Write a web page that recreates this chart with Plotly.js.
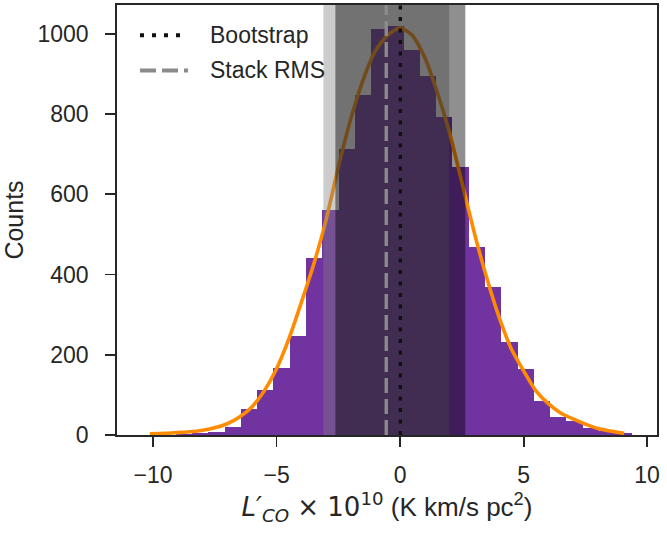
<!DOCTYPE html>
<html>
<head>
<meta charset="utf-8">
<script src="https://cdn.plot.ly/plotly-3.0.1.min.js"></script>
<style>
html,body{margin:0;padding:0;background:#fff;}
#chart{width:667px;height:533px;}
</style>
</head>
<body>
<div id="chart"></div>
<script>
// Histogram of L'CO (x 10^10) values: bin centres and counts
const binCenters = [-9.4115, -8.7525, -8.0935, -7.4345, -6.7755, -6.1165, -5.4575, -4.7985, -4.1395, -3.4805,
                    -2.8215, -2.1625, -1.5035, -0.8445, -0.1855, 0.4735, 1.1325, 1.7915, 2.4505, 3.1095,
                    3.7685, 4.4275, 5.0865, 5.7455, 6.4045, 7.0635, 7.7225, 8.3815, 9.0405];
const binCounts  = [1, 2, 4, 8, 19, 65, 113, 167, 247, 441,
                    561, 712, 847, 1012, 1020, 959, 894, 792, 668, 469,
                    369, 232, 165, 85, 46, 36, 18, 11, 6];
const binWidth = 0.659;

// Gaussian fit curve
const fitX = [-10.13, -9.5, -9, -8.5, -8, -7.5, -7, -6.5, -6, -5.5,
              -5, -4.5, -4, -3.5, -3, -2.5, -2, -1.5, -1, -0.5,
              0, 0.5, 1, 1.5, 2, 2.5, 3, 3.5, 4, 4.5,
              5, 5.5, 6, 6.5, 7, 7.5, 8, 8.5, 9.07];
const fitY = [3, 4, 6, 8, 12, 18, 28, 45, 70, 110,
              165, 240, 330, 425, 535, 668, 787, 885, 958, 997,
              1015, 996, 941, 855, 754, 630, 505, 393, 295, 215,
              160, 110, 78, 55, 40, 27, 16, 10, 4];

// Reference values: centre and half-width of each uncertainty band
const bootstrapCenter = 0.01;
const bootstrapHalfWidth = 2.63;
const stackCenter = -0.56;
const stackHalfWidth = 2.545;

const legendNames = ["Bootstrap", "Stack RMS"];
const xTickVals = [-10, -5, 0, 5, 10];
const yTickVals = [0, 200, 400, 600, 800, 1000];

const ink = '#262626';
const fontFam = '"Liberation Sans", Arial, sans-serif';
const bootColor = '#111111';
const stackColor = '#8a8a8a';
const dotDash = '4px,7.5px';
const longDash = '15px,6px';

const traces = [
  {
    type: 'bar', x: binCenters, y: binCounts, width: binWidth,
    marker: {color: '#7133a0', line: {width: 0}},
    showlegend: false, hoverinfo: 'skip'
  },
  {
    type: 'scatter', mode: 'lines', x: fitX, y: fitY,
    line: {color: '#ff8c00', width: 3.6, shape: 'spline', smoothing: 0.6},
    showlegend: false, hoverinfo: 'skip'
  }
];

const shapes = [
  {type: 'rect', xref: 'x', yref: 'paper', x0: stackCenter - stackHalfWidth, x1: stackCenter + stackHalfWidth,
   y0: 0, y1: 1, fillcolor: 'rgba(128,128,128,0.4)', line: {width: 0}, layer: 'above'},
  {type: 'rect', xref: 'x', yref: 'paper', x0: bootstrapCenter - bootstrapHalfWidth, x1: bootstrapCenter + bootstrapHalfWidth,
   y0: 0, y1: 1, fillcolor: 'rgba(0,0,0,0.44)', line: {width: 0}, layer: 'above'},
  {type: 'line', xref: 'x', yref: 'paper', x0: bootstrapCenter, x1: bootstrapCenter, y0: 0, y1: 1,
   line: {color: bootColor, width: 3.4, dash: dotDash}, layer: 'above'},
  {type: 'line', xref: 'x', yref: 'paper', x0: stackCenter, x1: stackCenter, y0: 0, y1: 1,
   line: {color: stackColor, width: 3.4, dash: longDash}, layer: 'above'},
  // legend samples
  {type: 'line', xref: 'paper', yref: 'paper', x0: 0.0426, x1: 0.1315, y0: 0.9295, y1: 0.9295,
   line: {color: bootColor, width: 4, dash: '4px,8px'}, layer: 'above'},
  {type: 'line', xref: 'paper', yref: 'paper', x0: 0.0426, x1: 0.1315, y0: 0.8479, y1: 0.8479,
   line: {color: stackColor, width: 4, dash: '16px,6px'}, layer: 'above'}
];

const annotations = [
  {xref: 'paper', yref: 'paper', x: 0.168, y: 0.9295, xanchor: 'left', yanchor: 'middle', showarrow: false,
   text: legendNames[0], font: {family: fontFam, size: 23, color: ink}},
  {xref: 'paper', yref: 'paper', x: 0.168, y: 0.8479, xanchor: 'left', yanchor: 'middle', showarrow: false,
   text: legendNames[1], font: {family: fontFam, size: 23, color: ink}}
];

const axisCommon = {
  showline: true, linewidth: 1.8, linecolor: ink, mirror: true,
  ticks: 'outside', ticklen: 10, tickwidth: 1.8, tickcolor: ink,
  showgrid: false, zeroline: false,
  tickfont: {family: fontFam, size: 23, color: ink}
};

const xTitle = '<span style="font-family:\'DejaVu Sans\'"><i>L′</i><sub><i>CO</i></sub> × 10<sup>10</sup></span> (K km/s pc<sup>2</sup>)';

const layout = {
  width: 667, height: 533,
  margin: {l: 117, r: 10, t: 5, b: 98},
  paper_bgcolor: '#ffffff', plot_bgcolor: '#ffffff',
  font: {family: fontFam, color: ink},
  bargap: 0,
  showlegend: false,
  xaxis: Object.assign({}, axisCommon, {
    range: [-11.46, 10.4], tickmode: 'array', tickvals: xTickVals,
    ticklabelstandoff: 9,
    title: {text: xTitle, font: {family: fontFam, size: 26, color: ink}, standoff: 10}
  }),
  yaxis: Object.assign({}, axisCommon, {
    range: [0, 1072], tickmode: 'array', tickvals: yTickVals,
    ticklabelstandoff: 12,
    title: {text: 'Counts', font: {family: fontFam, size: 25, color: ink}, standoff: 7}
  }),
  shapes: shapes,
  annotations: annotations
};

Plotly.newPlot('chart', traces, layout, {displayModeBar: false, staticPlot: true});
</script>
</body>
</html>
